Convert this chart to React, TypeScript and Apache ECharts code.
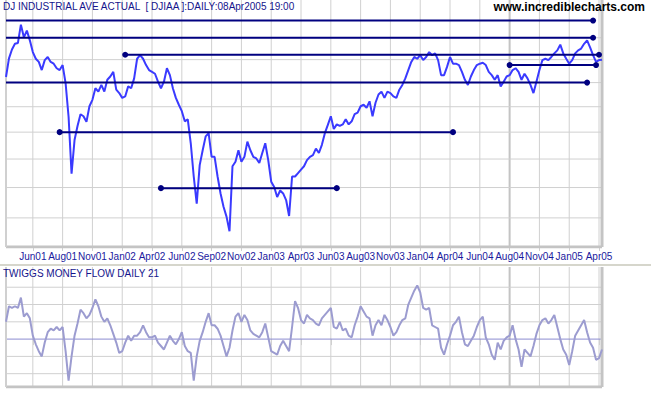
import React, { useEffect, useRef } from 'react';
import * as echarts from 'echarts';

const monthLabels = ['Jun01', 'Aug01', 'Nov01', 'Jan02', 'Apr02', 'Jun02', 'Sep02', 'Nov02', 'Jan03', 'Apr03', 'Jun03', 'Aug03', 'Nov03', 'Jan04', 'Apr04', 'Jun04', 'Aug04', 'Nov04', 'Jan05', 'Apr05'];

const closeValues = [
  101.2, 105.3, 107.3, 108.6, 108.8, 113.1, 110.1, 111.7, 109.4, 106.7,
  105.2, 104.5, 102.7, 104.9, 105.6, 104.5, 104.1, 103.1, 102.7, 103.8,
  99.9, 93.0, 82.4, 88.5, 91.2, 93.5, 93.1, 92.0, 95.1, 96.4,
  98.8, 98.1, 99.5, 98.1, 100.6, 101.3, 102.3, 98.5, 97.8, 96.8,
  97.1, 99.2, 98.8, 100.9, 105.2, 106.0, 105.2, 103.8, 102.7, 102.3,
  101.9, 100.2, 98.8, 100.2, 103.1, 101.6, 98.8, 96.8, 95.4, 94.1,
  92.1, 92.5, 87.9, 81.9, 77.3, 83.9, 86.6, 89.2, 89.8, 85.4,
  85.4, 81.9, 79.0, 76.8, 75.2, 72.9, 83.7, 84.5, 86.6, 84.5,
  85.4, 88.2, 86.6, 85.4, 85.1, 84.3, 86.1, 87.9, 84.8, 81.0,
  80.1, 78.4, 79.5, 79.0, 77.9, 75.3, 81.9, 81.9, 82.5, 83.1,
  83.7, 84.8, 85.4, 85.7, 86.9, 86.1, 87.6, 89.8, 91.4, 93.1,
  90.6, 91.5, 91.2, 91.5, 92.5, 91.5, 92.1, 93.5, 93.8, 95.1,
  95.4, 94.8, 96.1, 93.1, 95.8, 97.5, 98.1, 96.8, 98.1, 97.8,
  97.1, 96.8, 98.5, 99.5, 100.9, 102.7, 104.5, 105.6, 105.2, 106.0,
  104.9, 105.6, 106.7, 106.0, 106.4, 104.9, 101.6, 101.6, 103.4, 105.6,
  104.1, 104.1, 103.8, 102.3, 100.6, 99.5, 101.3, 102.7, 103.8, 104.1,
  104.3, 103.8, 102.3, 101.6, 100.6, 101.6, 99.2, 100.2, 101.3, 101.6,
  102.7, 103.1, 102.3, 100.6, 101.9, 100.9, 99.5, 97.8, 100.2, 102.7,
  104.9, 105.2, 104.9, 105.6, 106.4, 107.1, 108.4, 106.4, 105.2, 104.1,
  104.9, 106.4, 107.1, 107.5, 108.6, 109.4, 107.8, 106.0, 104.5, 104.9,
  105.0,
];

const moneyFlow = [
  0.10, 0.19, 0.18, 0.19, 0.18, 0.24, 0.13, 0.15, 0.12, 0.02,
  -0.03, -0.07, -0.10, -0.02, 0.04, 0.06, 0.05, 0.07, 0.05, 0.07,
  -0.07, -0.24, -0.10, 0.02, 0.09, 0.17, 0.15, 0.12, 0.14, 0.18,
  0.23, 0.19, 0.13, 0.10, 0.12, 0.08, 0.03, -0.02, -0.08, -0.07,
  -0.02, 0.02, -0.01, 0.02, 0.02, 0.04, 0.08, 0.04, 0.01, 0.01,
  0.02, -0.02, -0.04, -0.06, -0.02, 0.02, -0.01, -0.03, 0.00, 0.04,
  -0.04, -0.07, -0.08, -0.24, -0.10, -0.01, 0.04, 0.10, 0.15, 0.08,
  0.08, 0.06, 0.02, -0.04, -0.10, -0.05, 0.05, 0.13, 0.15, 0.10,
  0.14, 0.11, 0.05, 0.03, 0.02, 0.01, 0.04, 0.09, 0.01, -0.07,
  -0.08, -0.09, -0.04, -0.01, -0.04, -0.07, 0.07, 0.22, 0.18, 0.11,
  0.09, 0.14, 0.12, 0.11, 0.09, 0.08, 0.12, 0.14, 0.16, 0.18,
  0.07, 0.06, 0.10, 0.05, 0.06, 0.02, 0.01, 0.08, 0.13, 0.19,
  0.16, 0.13, 0.12, 0.02, 0.08, 0.11, 0.08, 0.14, 0.11, 0.07,
  0.02, 0.04, 0.08, 0.11, 0.12, 0.20, 0.24, 0.28, 0.31, 0.27,
  0.18, 0.17, 0.18, 0.08, 0.07, 0.06, -0.05, -0.09, -0.03, 0.02,
  0.08, 0.10, 0.13, 0.04, -0.03, -0.04, -0.01, 0.02, 0.07, 0.11,
  0.13, 0.01, -0.03, -0.09, -0.12, -0.02, -0.06, -0.01, 0.01, 0.02,
  0.08, 0.00, -0.06, -0.16, -0.06, -0.08, -0.10, -0.04, 0.03, 0.08,
  0.11, 0.12, 0.09, 0.11, 0.14, 0.07, 0.00, -0.06, -0.09, -0.15,
  -0.07, 0.02, 0.05, 0.08, 0.11, 0.04, -0.02, -0.05, -0.12, -0.11,
  -0.06,
];

const priceTicks = [75, 80, 85, 90, 95, 100, 105, 110];
const flowTicks = [0.3, 0.2, 0.1, -0.1, -0.2];
const flowLabels = [0.3, 0.2, 0.1, 0, -0.1, -0.2];
const flowZero = [0];

const trendLevels = [114.1, 110, 106.1, 103.8, 100, 90, 79.9];
const trendFrom = [0, 0, 40, 169, 0, 18, 52];
const trendTo = [197, 197, 199, 198, 195, 150, 111];

const priceRange = [70.5, 119.2];
const flowRange = [-0.277, 0.417];

const categories = closeValues.map((_, i) => 'd' + i);
const FONT = "'Liberation Sans', Arial, sans-serif";
const tickInterval = (i: number) => i % 10 === 9;
const gridIdx = categories.map((_, i) => i).filter(tickInterval);
const GRID = '#d0d0d0';
const EDGE = '#c4c4c4';

export default function App() {
  const ref = useRef<HTMLDivElement>(null);

  useEffect(() => {
    if (!ref.current) return;
    const chart = echarts.init(ref.current, undefined, { renderer: 'svg' });

    const lastIdx = categories.length - 1;

    const hGrid = (values: number[], ax: number, color: string) =>
      values.map((v) => ({
        type: 'line', xAxisIndex: ax, yAxisIndex: ax, z: 1, silent: true,
        symbol: 'none', showSymbol: false,
        lineStyle: { color, width: 1 },
        data: [[0, v], [lastIdx, v]],
      }));

    const vGrid = (ax: number, range: number[]) =>
      gridIdx.map((i) => ({
        type: 'line', xAxisIndex: ax, yAxisIndex: ax, z: 1, silent: true,
        symbol: 'none', showSymbol: false,
        lineStyle: { color: i === 169 ? EDGE : GRID, width: i === 169 ? 2 : 1 },
        data: [[i, range[0]], [i, range[1]]],
      }));

    const frame = (ax: number, range: number[]) => [
      {
        type: 'line', xAxisIndex: ax, yAxisIndex: ax, z: 2, silent: true,
        symbol: 'none', showSymbol: false, lineStyle: { color: EDGE, width: 3 },
        data: [[0, range[0]], [lastIdx, range[0]]],
      },
      {
        type: 'line', xAxisIndex: ax, yAxisIndex: ax, z: 2, silent: true,
        symbol: 'none', showSymbol: false, lineStyle: { color: EDGE, width: 3 },
        data: [[lastIdx, range[0]], [lastIdx, range[1]]],
      },
      {
        type: 'line', xAxisIndex: ax, yAxisIndex: ax, z: 2, silent: true,
        symbol: 'none', showSymbol: false, lineStyle: { color: GRID, width: 2 },
        data: [[0, range[0]], [0, range[1]]],
      },
    ];

    const trendSeries = trendLevels.map((lvl, k) => ({
      type: 'line', xAxisIndex: 0, yAxisIndex: 0, z: 4, silent: true,
      symbol: 'circle', symbolSize: 6, showSymbol: true, showAllSymbol: true,
      itemStyle: { color: '#000080' },
      lineStyle: { color: '#000080', width: 2 },
      data: [
        trendFrom[k] === 0 ? { value: [trendFrom[k], lvl], symbol: 'none' } : { value: [trendFrom[k], lvl] },
        { value: [trendTo[k], lvl] },
      ],
    }));

    const labelMarks = (values: number[], fmt: (v: number) => string, color: string) => ({
      z: 5, silent: true, symbol: 'none', animation: false,
      lineStyle: { opacity: 0, width: 0 },
      label: {
        show: true, position: 'end', distance: 5,
        formatter: (p: any) => fmt(Number(p.value)),
        color, fontSize: 10, fontFamily: FONT,
      },
      emphasis: { disabled: true },
      data: values.map((v) => ({ yAxis: v })),
    });

    const option: any = {
      animation: false,
      backgroundColor: '#ffffff',
      title: [
        {
          text: 'DJ INDUSTRIAL AVE ACTUAL  [ DJIAA ]:DAILY:08Apr2005 19:00',
          left: 3, top: 1, padding: 0,
          textStyle: { color: '#14148c', fontSize: 10, fontWeight: 'normal', fontFamily: FONT },
        },
        {
          text: 'www.incrediblecharts.com',
          right: 6, top: 1, padding: 0,
          textStyle: { color: '#000000', fontSize: 12, fontWeight: 'bold', fontFamily: FONT },
        },
        {
          text: 'TWIGGS MONEY FLOW DAILY 21',
          left: 3, top: 268, padding: 0,
          textStyle: { color: '#14148c', fontSize: 10, fontWeight: 'normal', fontFamily: FONT },
        },
      ],
      graphic: [
        { type: 'rect', left: 0, top: 264, z: 10, shape: { width: 651, height: 2 }, style: { fill: '#d6d6cc' }, silent: true },
      ],
      grid: [
        { left: 6, right: 49, top: 0, height: 247, show: true, borderWidth: 0, backgroundColor: 'transparent' },
        { left: 6, right: 49, top: 267, height: 120, show: true, borderWidth: 0, backgroundColor: 'transparent' },
      ],
      xAxis: [
        {
          gridIndex: 0, type: 'category', data: categories, boundaryGap: false,
          axisLine: { show: false },
          axisTick: { show: true, interval: tickInterval, length: 4, lineStyle: { color: GRID, width: 1 } },
          axisLabel: {
            interval: tickInterval,
            formatter: (_v: string, i: number) => monthLabels[Math.floor(i / 10)] || '',
            color: '#1a1a9e', fontSize: 10, margin: 4, fontFamily: FONT,
          },
          splitLine: { show: false },
        },
        {
          gridIndex: 1, type: 'category', data: categories, boundaryGap: false,
          axisLine: { show: false },
          axisTick: { show: true, interval: tickInterval, length: 6, lineStyle: { color: GRID, width: 1 } },
          axisLabel: { show: false },
          splitLine: { show: false },
        },
      ],
      yAxis: [
        {
          gridIndex: 0, type: 'log', logBase: 10, min: priceRange[0], max: priceRange[1], position: 'right',
          axisLine: { show: false }, axisTick: { show: false }, axisLabel: { show: false }, splitLine: { show: false },
        },
        {
          gridIndex: 1, type: 'value', min: flowRange[0], max: flowRange[1], position: 'right',
          axisLine: { show: false }, axisTick: { show: false }, axisLabel: { show: false }, splitLine: { show: false },
        },
      ],
      series: [
        ...vGrid(0, priceRange),
        ...vGrid(1, flowRange),
        ...hGrid(priceTicks, 0, GRID),
        ...hGrid(flowTicks, 1, GRID),
        ...hGrid(flowZero, 1, '#8c8cd0'),
        ...frame(0, priceRange),
        ...frame(1, flowRange),
        {
          type: 'line', name: 'DJIAA', xAxisIndex: 0, yAxisIndex: 0, z: 3,
          data: closeValues, symbol: 'none', showSymbol: false, silent: true,
          lineStyle: { color: '#3a3aff', width: 2 },
          markLine: labelMarks(priceTicks, (v) => v.toFixed(2), '#4848ff'),
        },
        {
          type: 'line', name: 'Money Flow', xAxisIndex: 1, yAxisIndex: 1, z: 3,
          data: moneyFlow, symbol: 'none', showSymbol: false, silent: true,
          lineStyle: { color: '#9c9cd0', width: 2 },
          markLine: labelMarks(flowLabels, (v) => (v === 0 ? '0' : v.toFixed(1)), '#9a9ac8'),
        },
        ...trendSeries,
      ],
    };

    chart.setOption(option);
    return () => chart.dispose();
  }, []);

  return <div ref={ref} style={{ position: 'absolute', left: 0, top: 0, width: 651, height: 395 }} />;
}
